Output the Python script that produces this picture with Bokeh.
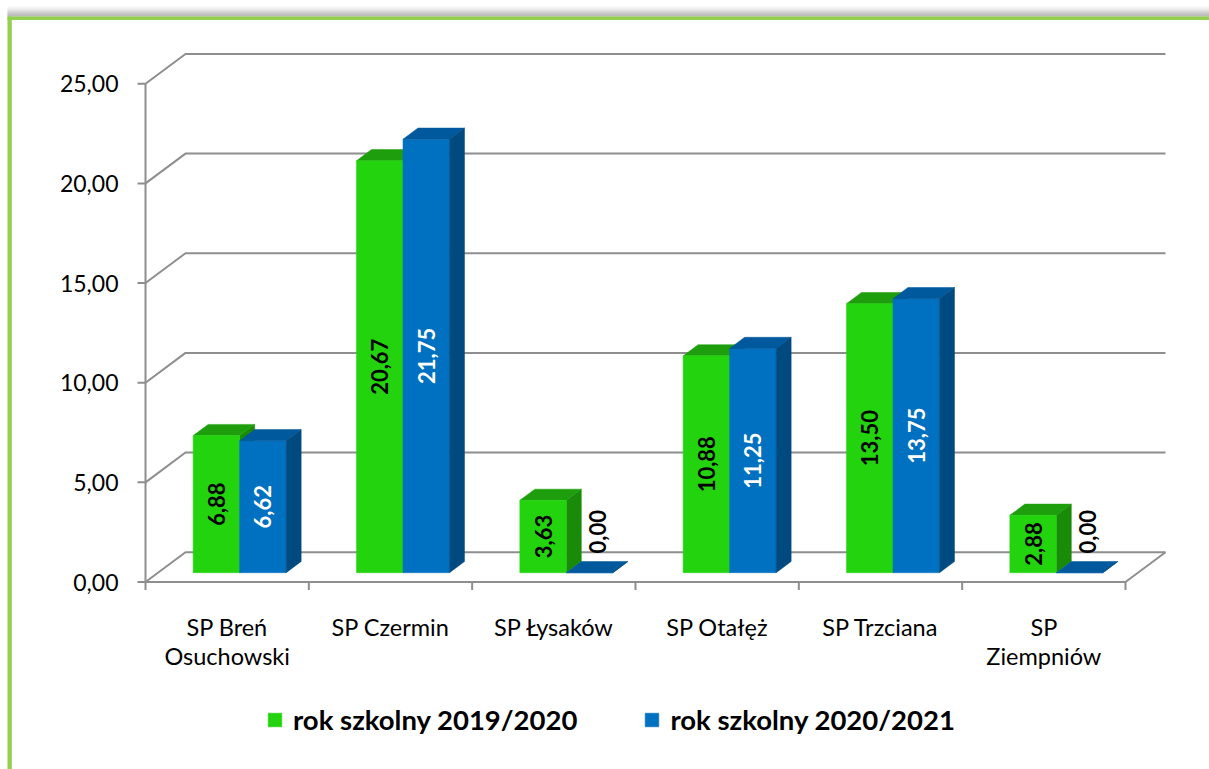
import numpy as np
from bokeh.plotting import figure
from bokeh.models import Range1d, Legend, LegendItem
from bokeh.core.properties import value
from bokeh.embed import file_html
from bokeh.resources import INLINE

# ---------------- data ----------------
categories = ["SP Breń\nOsuchowski", "SP Czermin", "SP Łysaków", "SP Otałęż", "SP Trzciana", "SP\nZiempniów"]
series_names = ["rok szkolny 2019/2020", "rok szkolny 2020/2021"]
values_2019 = [6.88, 20.67, 3.63, 10.88, 13.50, 2.88]
values_2020 = [6.62, 21.75, 0.00, 11.25, 13.75, 0.00]
y_ticks = [0, 5, 10, 15, 20, 25]
y_tick_labels = ["0,00", "5,00", "10,00", "15,00", "20,00", "25,00"]

# ---------------- layout / style ----------------
W, H = 1209, 769
PAGE = 0
ORIGIN_X, ORIGIN_Y = 145.0, 581.5          # page px of the front-plane origin
PXX = 163.33                                # px per category
PXY = 19.93                                 # px per value unit
FONT = "Lato"

def dx(px):
    return px / PXX

def dy(px):
    return px / PXY

def cx(page_x):
    return (page_x - ORIGIN_X) / PXX

def cy(page_y):
    return (ORIGIN_Y - page_y) / PXY

x_range = Range1d(cx(PAGE), cx(PAGE + W))
y_range = Range1d(cy(PAGE + H), cy(PAGE))

p = figure(width=W, height=H, x_range=x_range, y_range=y_range,
           output_backend="svg", toolbar_location=None,
           x_axis_location=None, y_axis_location=None, min_border=0)
p.outline_line_color = None
p.xgrid.visible = False
p.ygrid.visible = False
p.background_fill_color = "white"
p.border_fill_color = "white"

# frame shadow + green border
shadow_cols = ["#fdfdfd", "#f8f8f8", "#f1f1f1", "#e8e8e8", "#dedede", "#d3d3d3",
               "#c8c8c8", "#bdbdbd", "#b3b3b3", "#aaaaaa", "#a3a3a3"]
for i, c in enumerate(shadow_cols):
    p.quad(left=cx(7), right=cx(1209), top=cy(5 + i), bottom=cy(6 + i), fill_color=c, line_color=None)
GREEN_BORDER = "#92D050"
p.quad(left=cx(7), right=cx(1209), top=cy(16), bottom=cy(19.5), fill_color=GREEN_BORDER, line_color=None)
p.quad(left=cx(7), right=cx(11.3), top=cy(16), bottom=cy(769), fill_color=GREEN_BORDER, line_color=None)

n = len(categories)
DX, DY = dx(40), dy(29.8)        # depth of the 3D box
GRID = "#8e8e8e"

# back-wall gridlines with side-wall diagonals
p.multi_line(xs=[[0, DX, n + DX] for _ in y_ticks],
             ys=[[v, v + DY, v + DY] for v in y_ticks],
             line_color=GRID, line_width=2)
# floor front edge and right diagonal
p.line(x=[0, n, n + DX], y=[0, 0, DY], line_color=GRID, line_width=2)
# front vertical axis
p.line(x=[0, 0], y=[0, max(y_ticks)], line_color=GRID, line_width=2)
# y tick marks
p.segment(x0=[dx(-8)] * len(y_ticks), y0=y_ticks, x1=[0] * len(y_ticks), y1=y_ticks,
          line_color=GRID, line_width=2)
# x tick marks at category boundaries
bounds = list(range(n + 1))
p.segment(x0=bounds, y0=[0] * len(bounds), x1=bounds, y1=[dy(-8)] * len(bounds),
          line_color=GRID, line_width=2)

# y tick labels
p.text(x=[dx(-27)] * len(y_ticks), y=y_ticks, text=y_tick_labels,
       text_font=value(FONT), text_font_size="23px", text_color="#000000",
       text_align="right", text_baseline="middle")

# category labels (multi-line)
lx, ly, lt = [], [], []
for i, c in enumerate(categories):
    for j, line in enumerate(c.split("\n")):
        lx.append(i + 0.5)
        ly.append(-(dy(45) + j * dy(29)))
        lt.append(line)
p.text(x=lx, y=ly, text=lt, text_font=value(FONT), text_font_size="23.5px",
       text_color="#000000", text_align="center", text_baseline="middle")

# ---------------- 3D bars ----------------
BW = dx(46.5)
sx0, sy0 = 0.3125 * DX, 0.3125 * DY   # bar front plane offset
bdx, bdy = 0.375 * DX, 0.375 * DY     # bar depth
xc = np.arange(n) + 0.5

series = [
    (values_2019, "#22D30E", "#1E9E0C", "#1A8A09", "#000000"),
    (values_2020, "#0070C0", "#00599C", "#004A80", "#FFFFFF"),
]
front_renderers = []
for k, (vals, c_front, c_top, c_side, c_lbl) in enumerate(series):
    vals = np.array(vals, dtype=float)
    L = xc + sx0 - BW + k * BW
    R = L + BW
    B = np.full(n, sy0)
    T = sy0 + vals
    side_xs = [[r, r + bdx, r + bdx, r] for r in R]
    side_ys = [[b, b + bdy, t + bdy, t] for b, t in zip(B, T)]
    top_xs = [[l, r, r + bdx, l + bdx] for l, r in zip(L, R)]
    top_ys = [[t, t, t + bdy, t + bdy] for t in T]
    if k == 0:
        p.patches(side_xs, side_ys, fill_color=c_side, line_color=c_side, line_width=0.5)
        p.patches(top_xs, top_ys, fill_color=c_top, line_color=c_top, line_width=0.5)
        fr = p.quad(left=L, right=R, bottom=B, top=T, fill_color=c_front, line_color=c_front, line_width=0.5)
    else:
        fr = p.quad(left=L, right=R, bottom=B, top=T, fill_color=c_front, line_color=c_front, line_width=0.5)
        p.patches(top_xs, top_ys, fill_color=c_top, line_color=c_top, line_width=0.5)
        p.patches(side_xs, side_ys, fill_color=c_side, line_color=c_side, line_width=0.5)
    front_renderers.append(fr)

    texts = [f"{v:.2f}".replace(".", ",") for v in vals]
    nz = vals > 0
    # labels inside bars
    p.text(x=((L + R) / 2)[nz], y=((B + T) / 2)[nz], text=[t for t, z in zip(texts, nz) if z],
           angle=np.pi / 2, text_font=value(FONT), text_font_style="bold", text_font_size="22px",
           text_color=c_lbl, text_align="center", text_baseline="middle")
    # labels above zero bars
    if (~nz).any():
        p.text(x=((L + R) / 2 + bdx / 2)[~nz], y=(T + bdy + dy(8))[~nz],
               text=[t for t, z in zip(texts, nz) if not z],
               angle=np.pi / 2, text_font=value(FONT), text_font_style="bold", text_font_size="22px",
               text_color="#000000", text_align="left", text_baseline="middle")

# ---------------- legend ----------------
legend = Legend(items=[LegendItem(label=series_names[0], renderers=[front_renderers[0]]),
                       LegendItem(label=series_names[1], renderers=[front_renderers[1]])],
                orientation="horizontal", location=(266, 33),
                label_text_font=FONT, label_text_font_style="bold", label_text_font_size="27.5px",
                label_text_color="#000000", glyph_width=17, glyph_height=17, label_height=34,
                label_standoff=10, spacing=66, padding=0, margin=0,
                border_line_color=None, background_fill_alpha=0)
p.add_layout(legend)

open("out.html", "w").write(file_html(p, INLINE))
